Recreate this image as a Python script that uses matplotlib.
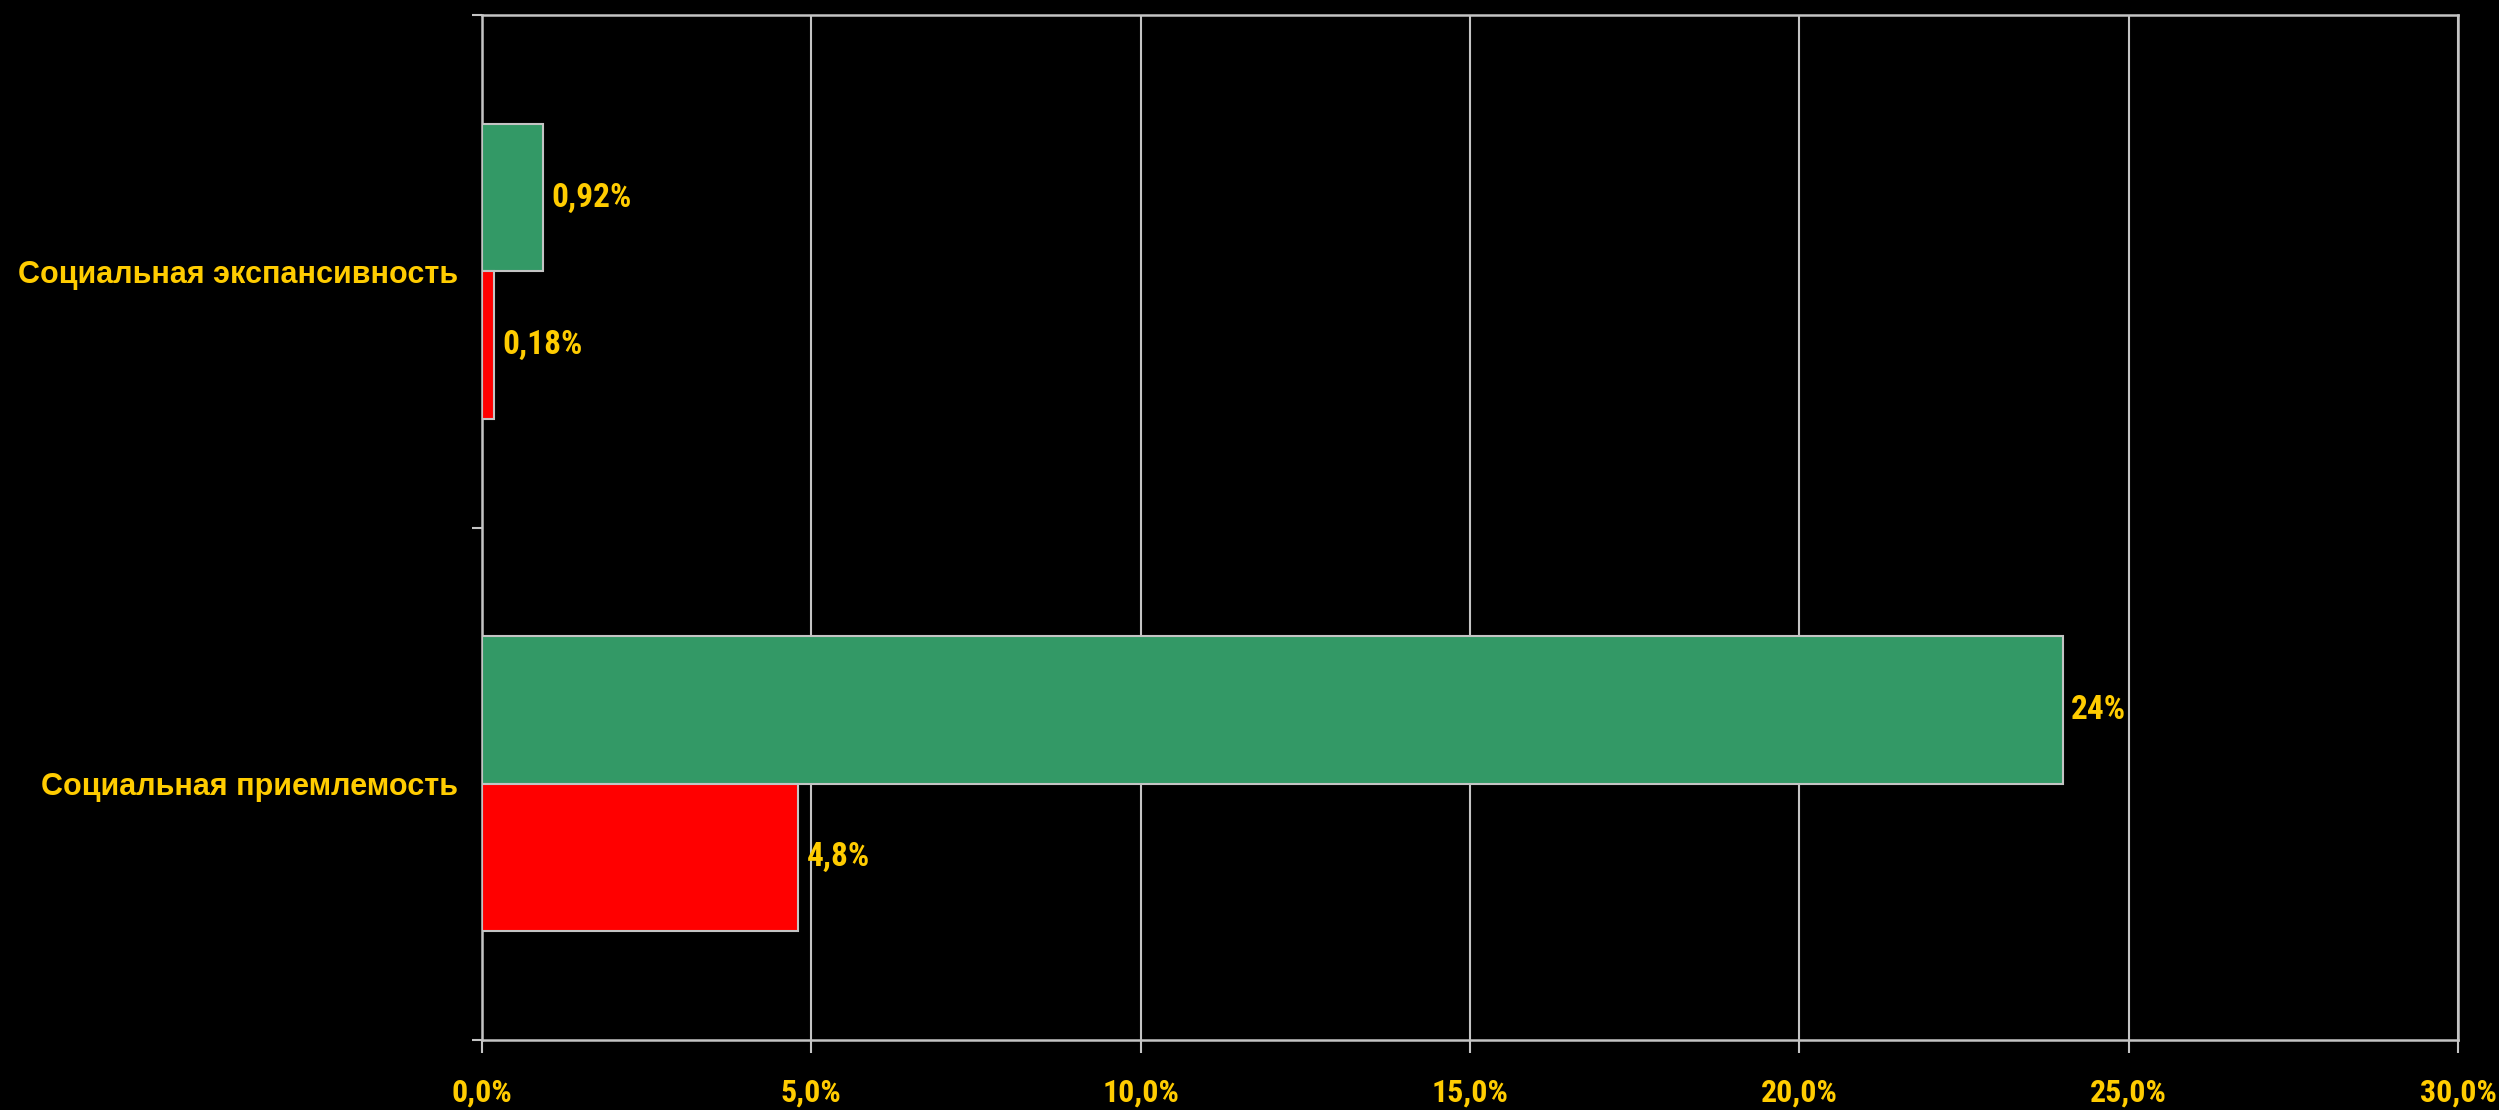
import matplotlib
matplotlib.use("Agg")
import matplotlib.pyplot as plt
from matplotlib import font_manager
import numpy as np

# ---- data ----
categories = ["Социальная приемлемость", "Социальная экспансивность"]
green_values = [24.0, 0.92]
red_values = [4.8, 0.18]
x_ticks = [0, 5, 10, 15, 20, 25, 30]


def font_ok(name):
    try:
        font_manager.findfont(font_manager.FontProperties(family=name), fallback_to_default=False)
        return True
    except Exception:
        return False


narrow = None
for cand in ["Liberation Sans Narrow", "DejaVu Sans Condensed", "Roboto Condensed", "Open Sans Condensed"]:
    if font_ok(cand):
        narrow = cand
        break
label_font = "Liberation Sans" if font_ok("Liberation Sans") else "DejaVu Sans"
num_font = narrow if narrow else label_font
num_tick_size = 23 if narrow else 20
num_val_size = 24 if narrow else 20

TEXT = "#FFCC00"
GRID = "#C4C4C4"
GREEN = "#339966"
RED = "#FF0000"

W, H = 2499, 1110
fig = plt.figure(figsize=(W / 100, H / 100), dpi=100, facecolor="black")
left, right, top, bottom = 482, 2458, 15, 1040
ax = fig.add_axes([left / W, (H - bottom) / H, (right - left) / W, (bottom - top) / H])
ax.set_facecolor("black")

y = np.arange(len(categories))
bh = 0.2875
ax.barh(y + bh / 2, green_values, height=bh, color=GREEN, edgecolor=GRID, linewidth=1.5, zorder=3)
ax.barh(y - bh / 2, red_values, height=bh, color=RED, edgecolor=GRID, linewidth=1.5, zorder=3)


def fmt(v):
    return f"{v:g}".replace(".", ",") + "%"


for yi, v in zip(y, green_values):
    ax.annotate(fmt(v), (v, yi + bh / 2), xytext=(6, 0), textcoords="offset points",
                ha="left", va="center", color=TEXT, fontsize=num_val_size, fontweight="bold",
                family=[num_font, "DejaVu Sans"], zorder=4)
for yi, v in zip(y, red_values):
    ax.annotate(fmt(v), (v, yi - bh / 2), xytext=(6, 0), textcoords="offset points",
                ha="left", va="center", color=TEXT, fontsize=num_val_size, fontweight="bold",
                family=[num_font, "DejaVu Sans"], zorder=4)

ax.set_xlim(0, 30)
ax.set_ylim(-0.5, 1.5)

ax.set_xticks(x_ticks)
ax.set_xticklabels([f"{t:.1f}".replace(".", ",") + "%" for t in x_ticks],
                   color=TEXT, fontsize=num_tick_size, fontweight="bold", family=[num_font, "DejaVu Sans"])
ax.tick_params(axis="x", direction="out", length=9, width=1.5, color=GRID, pad=18)

ax.set_yticks(y)
ax.set_yticklabels(categories, color=TEXT, fontsize=22, fontweight="bold",
                   family=[label_font, "DejaVu Sans"])
ax.tick_params(axis="y", which="major", length=0, pad=17)
ax.set_yticks([-0.5, 0.5, 1.5], minor=True)
ax.tick_params(axis="y", which="minor", direction="out", length=7, width=1.5, color=GRID)

ax.grid(axis="x", color=GRID, linewidth=1.5, zorder=0)
ax.set_axisbelow(True)
for s in ax.spines.values():
    s.set_color(GRID)
    s.set_linewidth(1.8)

fig.savefig("out.png", dpi=100, facecolor="black")
